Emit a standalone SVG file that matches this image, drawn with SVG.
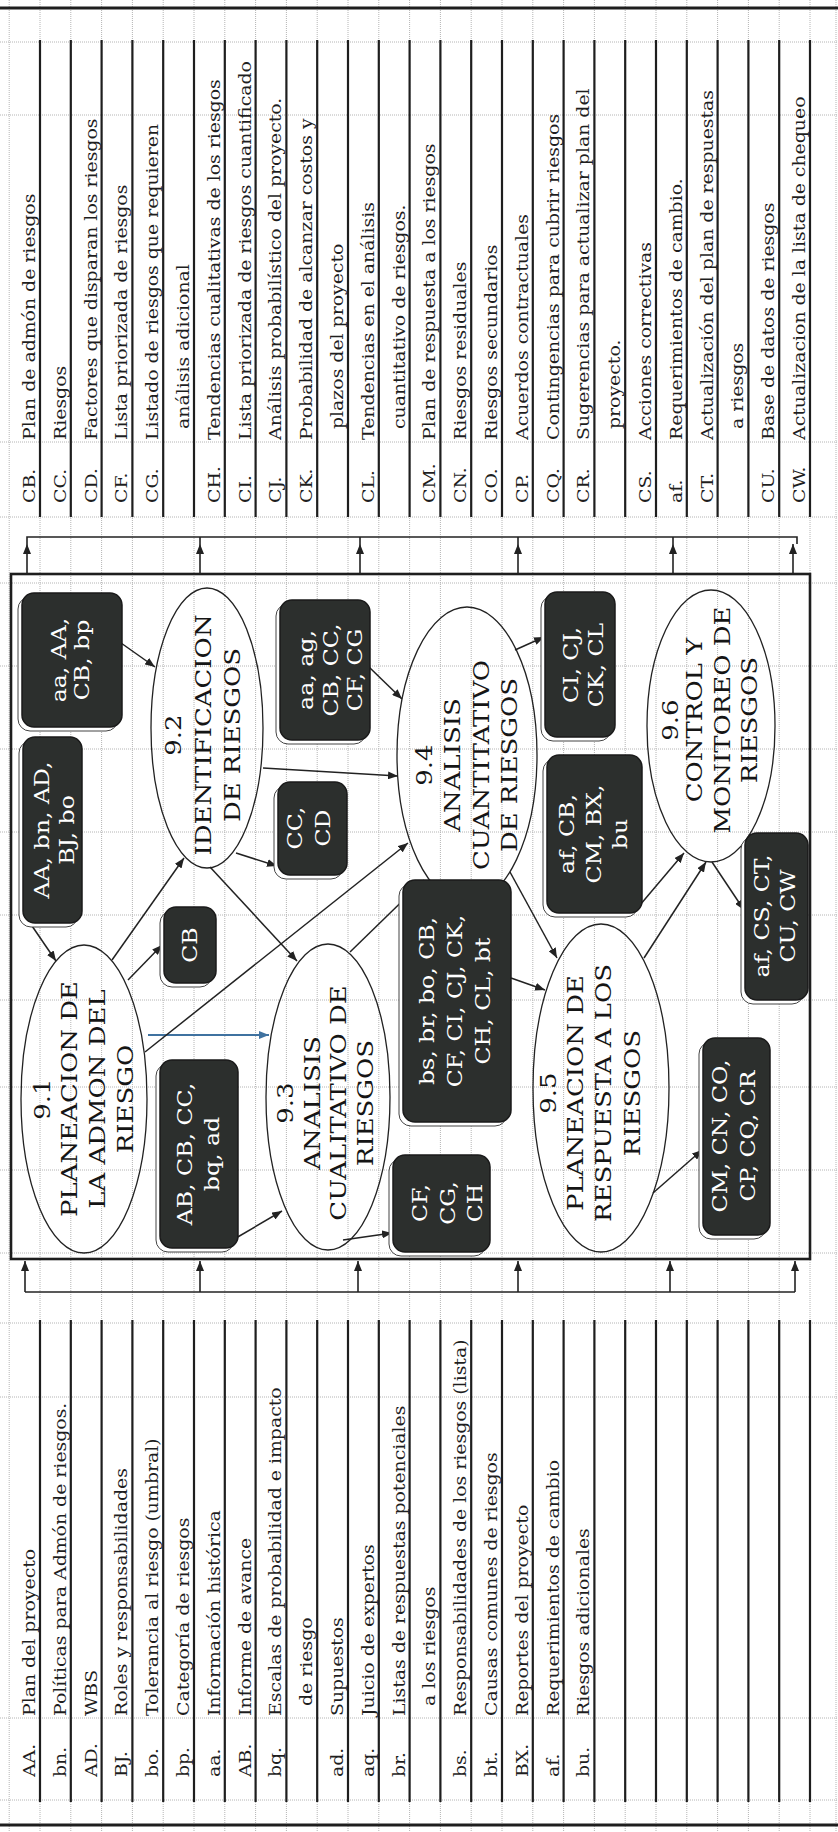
<svg xmlns="http://www.w3.org/2000/svg" width="838" height="1832" viewBox="0 0 838 1832">
<style>
.grid{stroke:#b4b4b4;stroke-width:1;stroke-dasharray:1 1;fill:none}
.row{stroke:#1e1e1e;stroke-width:2.2;fill:none}
.border{stroke:#1e1e1e;stroke-width:3;fill:none}
.bus{stroke:#222;stroke-width:1.6;fill:none}
.up{stroke:#222;stroke-width:1.6;fill:none;marker-end:url(#ah)}
.conn{stroke:#222;stroke-width:1.5;fill:none;marker-end:url(#ah)}
.blue{stroke:#3f72a0;stroke-width:2;fill:none;marker-end:url(#ahb)}
.ell{fill:none;stroke:#222;stroke-width:1.3}
.box{fill:#2c2f2d;stroke:#1a1a1a;stroke-width:1.5}
.shd{fill:#fff;stroke:#444;stroke-width:1}
.tt{font-family:'DejaVu Serif','Liberation Serif',serif;font-size:16px;fill:#1e1e1e}
.nt{font-family:'DejaVu Serif','Liberation Serif',serif;font-size:22px;fill:#151515}
.bt{font-family:'DejaVu Serif','Liberation Serif',serif;font-size:20px;fill:#fff}
</style>
<defs>
<marker id="ah" markerUnits="userSpaceOnUse" markerWidth="10" markerHeight="8" refX="10" refY="4" orient="auto"><path d="M0,0 L10,4 L0,8 z" fill="#222"/></marker>
<marker id="ahb" markerUnits="userSpaceOnUse" markerWidth="10" markerHeight="8" refX="10" refY="4" orient="auto"><path d="M0,0 L10,4 L0,8 z" fill="#3f72a0"/></marker>
</defs>
<rect width="838" height="1832" fill="#fff"/>
<g id="gridlines">
<path class="grid" d="M9.2,0V1832M40,0V1832M70.8,0V1832M101.6,0V1832M132.4,0V1832M163.2,0V1832M194,0V1832M224.8,0V1832M255.6,0V1832M286.4,0V1832M317.2,0V1832M348,0V1832M378.8,0V1832M409.6,0V1832M440.4,0V1832M471.2,0V1832M502,0V1832M532.8,0V1832M563.6,0V1832M594.4,0V1832M625.2,0V1832M656,0V1832M686.8,0V1832M717.6,0V1832M748.4,0V1832M779.2,0V1832M810,0V1832M836,0V1832"/>
<path class="grid" d="M0,42H838M0,115H838M0,442H838M0,517H838M0,583H838M0,666H838M0,749H838M0,832H838M0,915H838M0,1000H838M0,1087H838M0,1170H838M0,1253H838M0,1323H838M0,1397H838M0,1718H838M0,1800H838"/>
<path class="border" d="M0,8H838M0,1825H838"/>
</g>
<g id="outputs-table">
<path class="row" d="M40,40V517M70.8,40V517M101.6,40V517M132.4,40V517M163.2,40V517M194,40V517M224.8,40V517M255.6,40V517M286.4,40V517M317.2,40V517M348,40V517M378.8,40V517M409.6,40V517M440.4,40V517M471.2,40V517M502,40V517M532.8,40V517M563.6,40V517M594.4,40V517M625.2,40V517M656,40V517M686.8,40V517M717.6,40V517M748.4,40V517M779.2,40V517M810,40V517"/>
<g class="tt" transform="translate(0,1832) rotate(-90) scale(1.18,1)">
<text x="1126.3" y="35">CB.</text><text x="1179.7" y="35">Plan de admón de riesgos</text>
<text x="1126.3" y="65.8">CC.</text><text x="1179.7" y="65.8">Riesgos</text>
<text x="1126.3" y="96.6">CD.</text><text x="1179.7" y="96.6">Factores que disparan los riesgos</text>
<text x="1126.3" y="127.4">CF.</text><text x="1179.7" y="127.4">Lista priorizada de riesgos</text>
<text x="1126.3" y="158.2">CG.</text><text x="1179.7" y="158.2">Listado de riesgos que requieren</text>
<text x="1189" y="189">análisis adicional</text>
<text x="1126.3" y="219.8">CH.</text><text x="1179.7" y="219.8">Tendencias cualitativas de los riesgos</text>
<text x="1126.3" y="250.6">CI.</text><text x="1179.7" y="250.6">Lista priorizada de riesgos cuantificado</text>
<text x="1126.3" y="281.4">CJ.</text><text x="1179.7" y="281.4">Análisis probabilístico del proyecto.</text>
<text x="1126.3" y="312.2">CK.</text><text x="1179.7" y="312.2">Probabilidad de alcanzar costos y</text>
<text x="1189" y="343">plazos del proyecto</text>
<text x="1126.3" y="373.8">CL.</text><text x="1179.7" y="373.8">Tendencias en el análisis</text>
<text x="1189" y="404.6">cuantitativo de riesgos.</text>
<text x="1126.3" y="435.4">CM.</text><text x="1179.7" y="435.4">Plan de respuesta a los riesgos</text>
<text x="1126.3" y="466.2">CN.</text><text x="1179.7" y="466.2">Riesgos residuales</text>
<text x="1126.3" y="497">CO.</text><text x="1179.7" y="497">Riesgos secundarios</text>
<text x="1126.3" y="527.8">CP.</text><text x="1179.7" y="527.8">Acuerdos contractuales</text>
<text x="1126.3" y="558.6">CQ.</text><text x="1179.7" y="558.6">Contingencias para cubrir riesgos</text>
<text x="1126.3" y="589.4">CR.</text><text x="1179.7" y="589.4">Sugerencias para actualizar plan del</text>
<text x="1189" y="620.2">proyecto.</text>
<text x="1126.3" y="651">CS.</text><text x="1179.7" y="651">Acciones correctivas</text>
<text x="1126.3" y="681.8">af.</text><text x="1179.7" y="681.8">Requerimientos de cambio.</text>
<text x="1126.3" y="712.6">CT.</text><text x="1179.7" y="712.6">Actualización del plan de respuestas</text>
<text x="1189" y="743.4">a riesgos</text>
<text x="1126.3" y="774.2">CU.</text><text x="1179.7" y="774.2">Base de datos de riesgos</text>
<text x="1126.3" y="805">CW.</text><text x="1179.7" y="805">Actualizacion de la lista de chequeo</text>
</g>
</g>
<g id="inputs-table">
<path class="row" d="M40,1320V1802M70.8,1320V1802M101.6,1320V1802M132.4,1320V1802M163.2,1320V1802M194,1320V1802M224.8,1320V1802M255.6,1320V1802M286.4,1320V1802M317.2,1320V1802M348,1320V1802M378.8,1320V1802M409.6,1320V1802M440.4,1320V1802M471.2,1320V1802M502,1320V1802M532.8,1320V1802M563.6,1320V1802M594.4,1320V1802M625.2,1320V1802M656,1320V1802M686.8,1320V1802M717.6,1320V1802M748.4,1320V1802M779.2,1320V1802M810,1320V1802"/>
<g class="tt" transform="translate(0,1832) rotate(-90) scale(1.18,1)">
<text x="46.6" y="35">AA.</text><text x="98.3" y="35">Plan del proyecto</text>
<text x="46.6" y="65.8">bn.</text><text x="98.3" y="65.8">Políticas para Admón de riesgos.</text>
<text x="46.6" y="96.6">AD.</text><text x="98.3" y="96.6">WBS</text>
<text x="46.6" y="127.4">BJ.</text><text x="98.3" y="127.4">Roles y responsabilidades</text>
<text x="46.6" y="158.2">bo.</text><text x="98.3" y="158.2">Tolerancia al riesgo (umbral)</text>
<text x="46.6" y="189">bp.</text><text x="98.3" y="189">Categoría de riesgos</text>
<text x="46.6" y="219.8">aa.</text><text x="98.3" y="219.8">Información histórica</text>
<text x="46.6" y="250.6">AB.</text><text x="98.3" y="250.6">Informe de avance</text>
<text x="46.6" y="281.4">bq.</text><text x="98.3" y="281.4">Escalas de probabilidad e impacto</text>
<text x="106.8" y="312.2">de riesgo</text>
<text x="46.6" y="343">ad.</text><text x="98.3" y="343">Supuestos</text>
<text x="46.6" y="373.8">aq.</text><text x="98.3" y="373.8">Juicio de expertos</text>
<text x="46.6" y="404.6">br.</text><text x="98.3" y="404.6">Listas de respuestas potenciales</text>
<text x="106.8" y="435.4">a los riesgos</text>
<text x="46.6" y="466.2">bs.</text><text x="98.3" y="466.2">Responsabilidades de los riesgos (lista)</text>
<text x="46.6" y="497">bt.</text><text x="98.3" y="497">Causas comunes de riesgos</text>
<text x="46.6" y="527.8">BX.</text><text x="98.3" y="527.8">Reportes del proyecto</text>
<text x="46.6" y="558.6">af.</text><text x="98.3" y="558.6">Requerimientos de cambio</text>
<text x="46.6" y="589.4">bu.</text><text x="98.3" y="589.4">Riesgos adicionales</text>
</g>
</g>
<g id="process-frame">
<rect x="11" y="574" width="799" height="685" fill="none" stroke="#1e1e1e" stroke-width="2.6"/>
</g>
<g id="connectors">
<path class="bus" d="M27,544V537H797V544M200,537V544M360,537V544M518,537V544M673,537V544"/>
<path class="up" d="M27,574V544"/><path class="up" d="M200,574V544"/><path class="up" d="M360,574V544"/><path class="up" d="M518,574V544"/><path class="up" d="M673,574V544"/><path class="up" d="M793,574V544"/>
<path class="bus" d="M25,1292H795"/>
<path class="up" d="M25,1292V1261"/><path class="up" d="M200,1292V1261"/><path class="up" d="M358,1292V1261"/><path class="up" d="M518,1292V1261"/><path class="up" d="M670,1292V1261"/><path class="up" d="M795,1292V1261"/>
<path class="conn" d="M30,923L56,961"/>
<path class="conn" d="M121,643L155,667"/>
<path class="conn" d="M128,980L162,945"/>
<path class="conn" d="M112,960L184,858"/>
<path class="blue" d="M148,1035L269,1035"/>
<path class="conn" d="M145,1052L408,843"/>
<path class="conn" d="M210,867L297,961"/>
<path class="conn" d="M236,853L277,866"/>
<path class="conn" d="M263,768L398,776"/>
<path class="conn" d="M369,667L402,699"/>
<path class="conn" d="M350,952L424,880"/>
<path class="conn" d="M236,1238L282,1211"/>
<path class="conn" d="M343,1240L392,1233"/>
<path class="conn" d="M511,978L545,990"/>
<path class="conn" d="M510,872L557,958"/>
<path class="conn" d="M515,650L544,637"/>
<path class="conn" d="M640,905L684,853"/>
<path class="conn" d="M644,958L706,862"/>
<path class="conn" d="M712,862L744,910"/>
<path class="conn" d="M653,1193L702,1150"/>
</g>
<g id="p91">
<ellipse class="ell" cx="84" cy="1099" rx="63" ry="154"/>
<text class="nt" text-anchor="middle" transform="translate(0,1099) rotate(-90) scale(1.18,1)"><tspan x="0" y="50">9.1</tspan><tspan x="0" y="77">PLANEACION DE</tspan><tspan x="0" y="105">LA ADMON DEL</tspan><tspan x="0" y="133">RIESGO</tspan></text>
</g>
<g id="p92">
<ellipse class="ell" cx="207" cy="728" rx="56" ry="140"/>
<text class="nt" text-anchor="middle" transform="translate(0,735) rotate(-90) scale(1.18,1)"><tspan x="0" y="181">9.2</tspan><tspan x="0" y="211">IDENTIFICACION</tspan><tspan x="0" y="240">DE RIESGOS</tspan></text>
</g>
<g id="p93">
<ellipse class="ell" cx="328" cy="1097" rx="62" ry="153"/>
<text class="nt" text-anchor="middle" transform="translate(0,1103) rotate(-90) scale(1.18,1)"><tspan x="0" y="293">9.3</tspan><tspan x="0" y="320">ANALISIS</tspan><tspan x="0" y="346">CUALITATIVO DE</tspan><tspan x="0" y="373">RIESGOS</tspan></text>
</g>
<g id="p94">
<ellipse class="ell" cx="467" cy="755" rx="70" ry="148"/>
<text class="nt" text-anchor="middle" transform="translate(0,765) rotate(-90) scale(1.18,1)"><tspan x="0" y="432">9.4</tspan><tspan x="0" y="460">ANALISIS</tspan><tspan x="0" y="489">CUANTITATIVO</tspan><tspan x="0" y="517">DE RIESGOS</tspan></text>
</g>
<g id="p95">
<ellipse class="ell" cx="601" cy="1088" rx="68" ry="164"/>
<text class="nt" text-anchor="middle" transform="translate(0,1093) rotate(-90) scale(1.18,1)"><tspan x="0" y="556">9.5</tspan><tspan x="0" y="583">PLANEACION DE</tspan><tspan x="0" y="611">RESPUESTA A LOS</tspan><tspan x="0" y="640">RIESGOS</tspan></text>
</g>
<g id="p96">
<ellipse class="ell" cx="711" cy="726" rx="64" ry="136"/>
<text class="nt" text-anchor="middle" transform="translate(0,720) rotate(-90) scale(1.18,1)"><tspan x="0" y="678">9.6</tspan><tspan x="0" y="702">CONTROL Y</tspan><tspan x="0" y="730">MONITOREO DE</tspan><tspan x="0" y="757">RIESGOS</tspan></text>
</g>
<g id="in91">
<rect class="shd" x="19" y="741" width="59" height="186" rx="12"/><rect class="box" x="23" y="737" width="59" height="186" rx="12"/>
<text class="bt" text-anchor="middle" transform="translate(0,830) rotate(-90) scale(1.18,1)"><tspan x="0" y="49">AA, bn, AD,</tspan><tspan x="0" y="74">BJ, bo</tspan></text>
</g>
<g id="in92">
<rect class="shd" x="18" y="597" width="100" height="134" rx="12"/><rect class="box" x="22" y="593" width="100" height="134" rx="12"/>
<text class="bt" text-anchor="middle" transform="translate(0,660) rotate(-90) scale(1.18,1)"><tspan x="0" y="66">aa, AA,</tspan><tspan x="0" y="89">CB, bp</tspan></text>
</g>
<g id="out91">
<rect class="shd" x="160" y="911" width="52" height="76" rx="12"/><rect class="box" x="164" y="907" width="52" height="76" rx="12"/>
<text class="bt" text-anchor="middle" transform="translate(0,945) rotate(-90) scale(1.18,1)"><tspan x="0" y="197">CB</tspan></text>
</g>
<g id="out92">
<rect class="shd" x="274" y="786" width="69" height="93" rx="12"/><rect class="box" x="278" y="782" width="69" height="93" rx="12"/>
<text class="bt" text-anchor="middle" transform="translate(0,828) rotate(-90) scale(1.18,1)"><tspan x="0" y="302">CC,</tspan><tspan x="0" y="330">CD</tspan></text>
</g>
<g id="in94">
<rect class="shd" x="276" y="604" width="90" height="140" rx="12"/><rect class="box" x="280" y="600" width="90" height="140" rx="12"/>
<text class="bt" text-anchor="middle" transform="translate(0,670) rotate(-90) scale(1.18,1)"><tspan x="0" y="313">aa, ag,</tspan><tspan x="0" y="338">CB, CC,</tspan><tspan x="0" y="362">CF, CG</tspan></text>
</g>
<g id="in93">
<rect class="shd" x="156" y="1064" width="78" height="188" rx="12"/><rect class="box" x="160" y="1060" width="78" height="188" rx="12"/>
<text class="bt" text-anchor="middle" transform="translate(0,1154) rotate(-90) scale(1.18,1)"><tspan x="0" y="192">AB, CB, CC,</tspan><tspan x="0" y="219">bq, ad</tspan></text>
</g>
<g id="out93">
<rect class="shd" x="389" y="1159" width="97" height="97" rx="12"/><rect class="box" x="393" y="1155" width="97" height="97" rx="12"/>
<text class="bt" text-anchor="middle" transform="translate(0,1203) rotate(-90) scale(1.18,1)"><tspan x="0" y="427">CF,</tspan><tspan x="0" y="455">CG,</tspan><tspan x="0" y="482">CH</tspan></text>
</g>
<g id="in95">
<rect class="shd" x="399" y="884" width="108" height="242" rx="12"/><rect class="box" x="403" y="880" width="108" height="242" rx="12"/>
<text class="bt" text-anchor="middle" transform="translate(0,1001) rotate(-90) scale(1.18,1)"><tspan x="0" y="434">bs, br, bo, CB,</tspan><tspan x="0" y="462">CF, CI, CJ, CK,</tspan><tspan x="0" y="490">CH, CL, bt</tspan></text>
</g>
<g id="out94">
<rect class="shd" x="541" y="596" width="70" height="145" rx="12"/><rect class="box" x="545" y="592" width="70" height="145" rx="12"/>
<text class="bt" text-anchor="middle" transform="translate(0,665) rotate(-90) scale(1.18,1)"><tspan x="0" y="578">CI, CJ,</tspan><tspan x="0" y="603">CK, CL</tspan></text>
</g>
<g id="in96">
<rect class="shd" x="543" y="759" width="95" height="158" rx="12"/><rect class="box" x="547" y="755" width="95" height="158" rx="12"/>
<text class="bt" text-anchor="middle" transform="translate(0,834) rotate(-90) scale(1.18,1)"><tspan x="0" y="574">af, CB,</tspan><tspan x="0" y="601">CM, BX,</tspan><tspan x="0" y="627">bu</tspan></text>
</g>
<g id="out95">
<rect class="shd" x="699" y="1042" width="67" height="197" rx="12"/><rect class="box" x="703" y="1038" width="67" height="197" rx="12"/>
<text class="bt" text-anchor="middle" transform="translate(0,1136) rotate(-90) scale(1.18,1)"><tspan x="0" y="727">CM, CN, CO,</tspan><tspan x="0" y="755">CP, CQ, CR</tspan></text>
</g>
<g id="out96">
<rect class="shd" x="741" y="837" width="63" height="167" rx="12"/><rect class="box" x="745" y="833" width="63" height="167" rx="12"/>
<text class="bt" text-anchor="middle" transform="translate(0,916) rotate(-90) scale(1.18,1)"><tspan x="0" y="769">af, CS, CT,</tspan><tspan x="0" y="795">CU, CW</tspan></text>
</g>
</svg>
